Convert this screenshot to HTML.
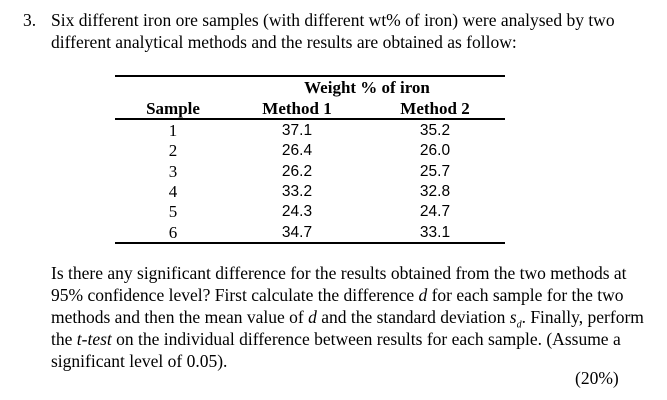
<!DOCTYPE html>
<html><head><meta charset="utf-8"><style>
body{margin:0;width:667px;height:400px;background:#fff;position:relative;overflow:hidden;font-family:"Liberation Serif",serif;color:#000}
.t{position:absolute;white-space:nowrap;font-size:17.5px}
.c{position:absolute;transform:translateX(-50%);white-space:nowrap;font-size:17px}
.b{font-weight:bold}
.s{font-family:"Liberation Sans",sans-serif;font-size:15.5px}
.line{position:absolute;left:115px;width:390px;background:#000}
</style></head><body>
<div class="t" style="left:23px;top:10px">3.</div>
<div class="t" style="left:51px;top:10px">Six different iron ore samples (with different wt% of iron) were analysed by two</div>
<div class="t" style="left:51px;top:32px">different analytical methods and the results are obtained as follow:</div>

<div class="line" style="top:75px;height:2px"></div>
<div class="line" style="top:118px;height:2px"></div>
<div class="line" style="top:242px;height:2px"></div>
<div class="c b" style="left:367px;top:78px">Weight % of iron</div>
<div class="c b" style="left:173px;top:99px">Sample</div>
<div class="c b" style="left:297px;top:99px">Method 1</div>
<div class="c b" style="left:435px;top:99px">Method 2</div>
<div id="rows"></div>

<div class="t" style="left:51px;top:263px">Is there any significant difference for the results obtained from the two methods at</div>
<div class="t" style="left:51px;top:285px">95% confidence level? First calculate the difference <i>d</i> for each sample for the two</div>
<div class="t" style="left:51px;top:307px">methods and then the mean value of <i>d</i> and the standard deviation <i>s<sub style="font-size:10px">d</sub></i>. Finally, perform</div>
<div class="t" style="left:51px;top:329px">the <i>t-test</i> on the individual difference between results for each sample. (Assume a</div>
<div class="t" style="left:51px;top:351px">significant level of 0.05).</div>
<div class="t" style="left:575px;top:368px">(20%)</div>
<script>
const samples=["1","2","3","4","5","6"];
const method1=["37.1","26.4","26.2","33.2","24.3","34.7"];
const method2=["35.2","26.0","25.7","32.8","24.7","33.1"];
const rows=document.getElementById('rows');
function cell(txt,x,y,cls,name){const d=document.createElement('div');d.className='c '+cls;d.style.left=x+'px';d.style.top=y+'px';d.textContent=txt;


rows.appendChild(d);}
samples.forEach((s,i)=>{const y=121+i*20.3;
cell(s,173,y,'','sample-cell');
cell(method1[i],297,y+1,'s','method1-cell');
cell(method2[i],435,y+1,'s','method2-cell');});
</script>
</body></html>
